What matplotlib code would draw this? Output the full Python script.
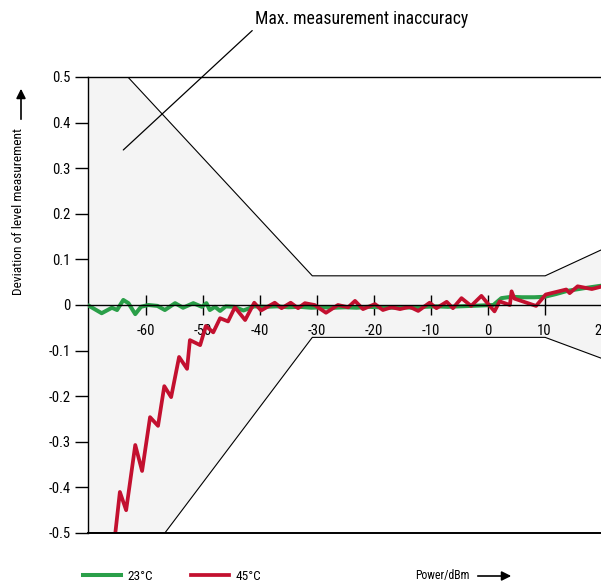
"""Level measurement deviation vs. power, with max. inaccuracy band."""

import numpy as np
import matplotlib
matplotlib.use('Agg')
import matplotlib.pyplot as plt
from matplotlib import font_manager

# condensed face if one is installed
names = {f.name for f in font_manager.fontManager.ttflist}
cond = [n for n in ('Liberation Sans Narrow', 'Roboto Condensed', 'Open Sans Condensed',
                    'DejaVu Sans Condensed') if n in names]
plt.rcParams['font.family'] = cond + ['DejaVu Sans']
plt.rcParams['font.stretch'] = 'condensed'

# Tolerance band (max. measurement inaccuracy)
upper_x = [-70.2, -63.2, -30.8, 10.1, 19.8, 26.0]
upper_y = [0.5, 0.5, 0.064, 0.064, 0.120, 0.156]
lower_x = [-70.2, -56.7, -30.8, 10.1, 19.8, 26.0]
lower_y = [-0.5, -0.5, -0.071, -0.071, -0.116, -0.144]

# 23 °C measurement
t23_x = [-70.0, -67.8, -66.0, -65.1, -64.0, -63.1, -61.9, -60.9, -59.6, -58.0,
         -56.7, -54.9, -53.5, -51.7, -50.2, -49.4, -48.8, -47.9, -47.0, -46.0,
         -44.5, -42.9, -41.0, -39.0, -37.0, -35.0, -33.0, -31.0, -29.0, -27.0,
         -25.0, -23.0, -21.0, -19.0, -17.0, -15.0, -13.0, -11.0, -9.0, -7.0,
         -5.0, -3.0, -1.0, 1.0, 2.4, 4.2, 6.0, 8.2, 10.0, 12.0,
         14.0, 17.0, 19.8, 21.0]
t23_y = [-0.002, -0.018, -0.006, -0.011, 0.011, 0.004, -0.020, -0.004, 0.000, -0.002,
         -0.011, 0.004, -0.006, 0.004, -0.004, 0.004, -0.011, -0.004, -0.013, -0.003,
         -0.004, -0.012, -0.003, -0.004, -0.003, -0.005, -0.004, -0.006, -0.005, -0.006,
         -0.005, -0.006, -0.004, -0.005, -0.006, -0.005, -0.006, -0.004, -0.003, -0.004,
         -0.003, -0.002, -0.001, 0.000, 0.015, 0.018, 0.017, 0.017, 0.018, 0.024,
         0.031, 0.037, 0.042, 0.044]

# 45 °C measurement
t45_x = [-65.4, -64.6, -63.5, -61.9, -60.7, -59.3, -57.9, -56.8, -55.6, -54.2,
         -52.8, -52.3, -50.5, -49.5, -48.2, -47.0, -45.6, -44.4, -42.6, -41.0,
         -39.8, -37.4, -36.2, -34.6, -33.3, -32.1, -30.4, -28.4, -26.3, -24.5,
         -23.3, -21.9, -19.8, -18.4, -16.9, -15.4, -13.7, -12.2, -10.2, -9.0,
         -7.2, -6.1, -4.6, -2.9, -1.1, 0.1, 1.2, 2.1, 3.9, 4.2,
         4.7, 8.5, 10.2, 13.8, 14.4, 15.8, 18.3, 20.5]
t45_y = [-0.500, -0.410, -0.450, -0.307, -0.364, -0.246, -0.265, -0.178, -0.202, -0.114,
         -0.140, -0.077, -0.088, -0.046, -0.060, -0.029, -0.036, -0.005, -0.033, 0.005,
         -0.012, 0.005, -0.007, 0.005, -0.007, 0.004, 0.000, -0.017, 0.000, -0.005,
         0.009, -0.009, 0.002, -0.011, -0.005, -0.009, -0.004, -0.013, 0.005, -0.007,
         0.007, -0.007, 0.015, -0.002, 0.020, 0.002, -0.014, 0.008, 0.000, 0.030,
         0.014, -0.002, 0.023, 0.034, 0.026, 0.041, 0.035, 0.042]

x_ticks = [-60, -50, -40, -30, -20, -10, 0, 10, 20]
y_ticks = [0.5, 0.4, 0.3, 0.2, 0.1, 0.0, -0.1, -0.2, -0.3, -0.4, -0.5]
y_ticklabels = ['0.5', '0.4', '0.3', '0.2', '0.1', '0', '-0.1', '-0.2', '-0.3', '-0.4', '-0.5']

GREEN = '#2a9f49'
RED = '#c3102f'

W, H = 601, 585
fig = plt.figure(figsize=(W / 100, H / 100), dpi=100)
ax = fig.add_axes([88 / W, 52 / H, 542 / W, 456 / H])

# band
ax.fill(np.r_[upper_x, lower_x[::-1]], np.r_[upper_y, lower_y[::-1]],
        color='#f4f4f4', zorder=0, lw=0)
ax.plot(upper_x, upper_y, color='black', lw=0.8, zorder=1)
ax.plot(lower_x, lower_y, color='black', lw=0.8, zorder=1)

l23, = ax.plot(t23_x, t23_y, color=GREEN, lw=2.9, zorder=3, label='23°C')
l45, = ax.plot(t45_x, t45_y, color=RED, lw=2.7, zorder=4, label='45°C')

ax.set_xlim(-70.2, 25)
ax.set_ylim(-0.5, 0.5)

ax.spines['right'].set_visible(False)
ax.spines['bottom'].set_position(('data', 0))
for s in ('left', 'top', 'bottom'):
    ax.spines[s].set_linewidth(1.0)
ax.axhline(-0.5, color='black', lw=1.4, zorder=5, clip_on=False)
ax.spines['bottom'].set_zorder(5)

ax.set_xticks(x_ticks)
ax.set_xticklabels([str(t) for t in x_ticks])
ax.set_yticks(y_ticks)
ax.set_yticklabels(y_ticklabels)
ax.tick_params(axis='x', direction='inout', length=14, width=1.0, pad=6.5, labelsize=10.5)
ax.tick_params(axis='y', direction='out', length=9.5, width=1.0, pad=3, labelsize=10.5)

ax.annotate('Max. measurement inaccuracy', xy=(-64.0, 0.34), xycoords='data',
            xytext=(255 / W, 1 - 28 / H), textcoords='figure fraction',
            ha='left', va='bottom', fontsize=12.7,
            arrowprops=dict(arrowstyle='-', lw=0.9, color='black',
                            shrinkA=0, shrinkB=0, relpos=(0, 0)))

fig.text(19 / W, 1 - 211 / H, 'Deviation of level measurement', rotation=90,
         ha='center', va='center', fontsize=9.6)
fig.add_artist(matplotlib.patches.FancyArrowPatch(
    (21 / W, 1 - 122 / H), (21 / W, 1 - 86 / H), transform=fig.transFigure,
    arrowstyle='-|>', mutation_scale=14, lw=1.2, color='black'))

fig.text(470 / W, 1 - 576 / H, 'Power/dBm', ha='right', va='center', fontsize=8.5)
fig.add_artist(matplotlib.patches.FancyArrowPatch(
    (475 / W, 1 - 576 / H), (514 / W, 1 - 576 / H), transform=fig.transFigure,
    arrowstyle='-|>', mutation_scale=14, lw=1.2, color='black'))

fig.legend(handles=[l23, l45], loc='center left', bbox_to_anchor=(83 / W, 1 - 576 / H),
           ncol=2, frameon=False, fontsize=9.5, handlelength=2.9, handletextpad=0.45,
           columnspacing=2.9, borderpad=0, borderaxespad=0)

fig.savefig('out.png', dpi=100)
